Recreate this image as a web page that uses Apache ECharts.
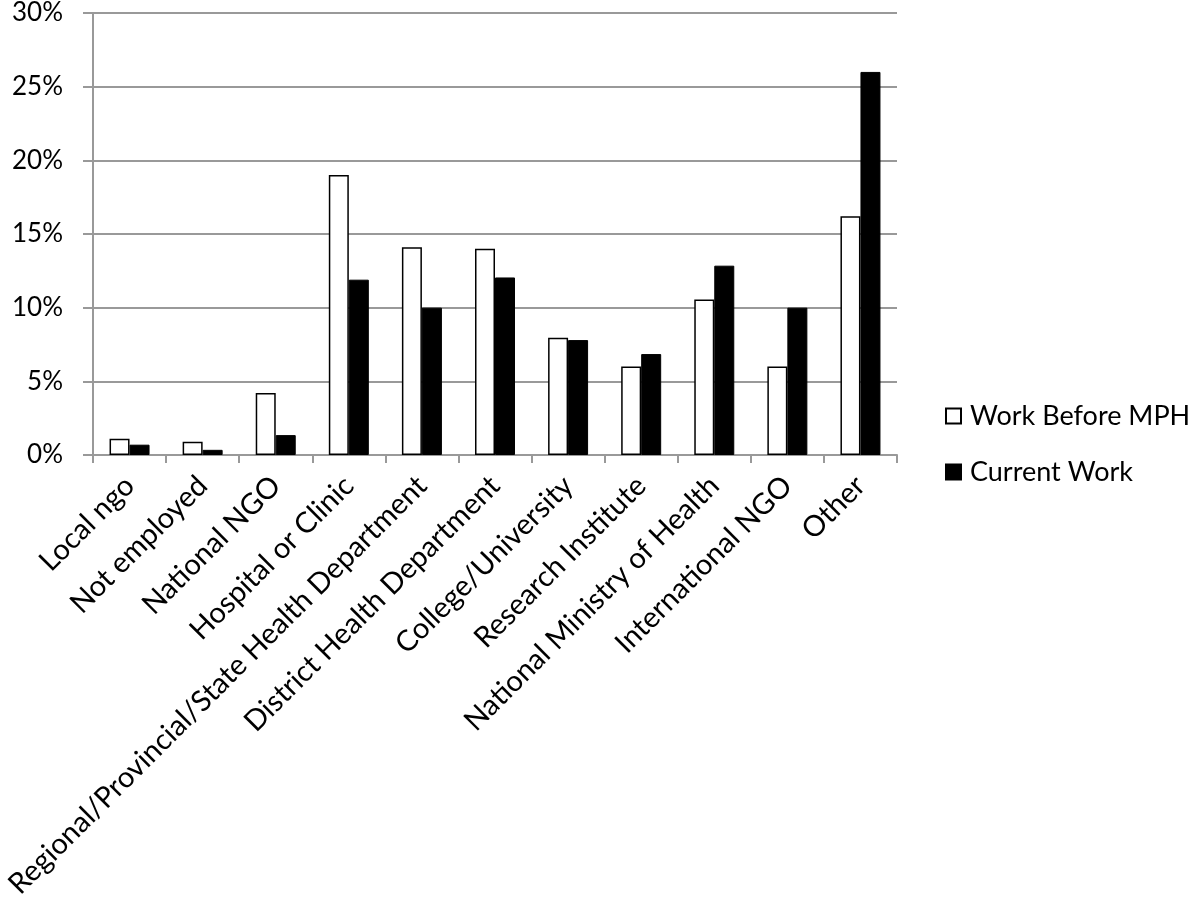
<!DOCTYPE html>
<html><head><meta charset="utf-8">
<script src="https://cdn.jsdelivr.net/npm/echarts@6/dist/echarts.min.js"></script>
<style>html,body{margin:0;padding:0;background:#fff}#c{width:1200px;height:905px}</style>
</head><body><div id="c"></div>
<script>
var categories = ["Local ngo","Not employed","National NGO","Hospital or Clinic","Regional/Provincial/State Health Department","District Health Department","College/University","Research Institute","National Ministry of Health","International NGO","Other"];
var workBefore = [1.1, 0.9, 4.2, 19.0, 14.1, 14.0, 7.95, 6.0, 10.55, 6.0, 16.2];
var currentWork = [0.7, 0.35, 1.35, 11.9, 10.0, 12.05, 7.8, 6.85, 12.85, 10.0, 26.0];
var yTicks = [0, 5, 10, 15, 20, 25, 30];
var seriesNames = ["Work Before MPH", "Current Work"];

var FONT = "Lato";
var chart = echarts.init(document.getElementById('c'), null, {renderer: 'canvas'});
chart.setOption({
  animation: false,
  backgroundColor: '#fff',
  textStyle: {fontFamily: FONT},
  grid: {left: 93, right: 303, top: 12, bottom: 450, containLabel: false},
  legend: {
    orient: 'vertical', left: 940, top: 397, itemWidth: 15, itemHeight: 15, itemGap: 28,
    icon: 'rect',
    textStyle: {fontFamily: FONT, fontSize: 27, lineHeight: 28, color: '#000', padding: [0, 0, 0, 4]},
    data: seriesNames
  },
  xAxis: {
    type: 'category', data: categories, boundaryGap: true,
    axisLine: {lineStyle: {color: '#999', width: 2}},
    axisTick: {show: true, alignWithLabel: false, length: 8, lineStyle: {color: '#999', width: 2}},
    axisLabel: {rotate: 45, interval: 0, fontSize: 29, color: '#000', fontFamily: FONT, margin: 26}
  },
  yAxis: {
    type: 'value', min: yTicks[0], max: yTicks[yTicks.length - 1], interval: 5,
    axisLine: {show: true, lineStyle: {color: '#999', width: 2}},
    axisTick: {show: true, length: 10, lineStyle: {color: '#999', width: 2}},
    splitLine: {lineStyle: {color: '#999', width: 2}},
    axisLabel: {formatter: '{value}%', fontSize: 26, color: '#000', fontFamily: FONT, margin: 30}
  },
  series: [
    {name: seriesNames[0], type: 'bar', data: workBefore, barWidth: 20, barGap: '0%',
     itemStyle: {color: '#fff', borderColor: '#000', borderWidth: 1.5}},
    {name: seriesNames[1], type: 'bar', data: currentWork, barWidth: 20, barGap: '0%',
     itemStyle: {color: '#000', borderColor: '#000', borderWidth: 1}}
  ]
});
</script></body></html>
